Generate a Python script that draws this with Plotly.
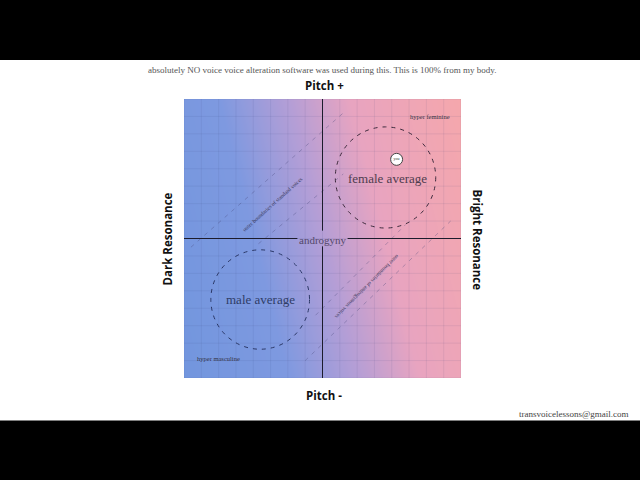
import numpy as np
import plotly.graph_objects as go

# ---- data ----
axis_range = [-8, 8]
grid_step = 1

circle_names = ["female average", "male average"]
circle_cx = [3.64, -3.6]
circle_cy = [3.5, -3.5]
circle_r = [2.9, 2.85]
circle_colors = ["#3c2a3c", "#2a3766"]
label_x = [3.76, -3.58]
label_y = [3.45, -3.5]
label_colors = ["#4e3c4e", "#2f3c66"]

corner_labels = ["hyper feminine", "hyper masculine"]
corner_x = [6.2, -6.0]
corner_y = [7.0, -6.9]

you_x = [4.28]
you_y = [4.54]

diag_lines_x = [[-7.6, 1.2], [-3.7, 1.2], [-0.4, 4.8], [-1.0, 7.4]]
diag_lines_y = [[-0.5, 7.2], [-0.3, 3.7], [-4.4, 0.8], [-7.0, 1.0]]
diag_texts = ["outer boundaries of standard voices", "outer boundaries of androgynous voices"]
diag_text_x = [-2.89, 2.6]
diag_text_y = [2.0, -2.76]
diag_text_angle = [-42, 135]

# ---- figure ----
fig = go.Figure()

# background gradient
gx = np.linspace(-8.5, 8.5, 18)
gy = np.linspace(-8.5, 8.5, 18)
GX, GY = np.meshgrid(gx, gy)
Z = GX + 0.25 * GY
fig.add_trace(go.Heatmap(
    x=gx, y=gy, z=Z, zmin=-10, zmax=10, zsmooth="best", showscale=False,
    hoverinfo="skip",
    colorscale=[[0, "rgb(114,150,222)"], [0.3, "rgb(126,153,224)"],
                [0.5, "rgb(180,158,214)"], [0.68, "rgb(232,164,192)"],
                [1, "rgb(245,167,172)"]]))

# diagonal dashed lines
for lx, ly in zip(diag_lines_x, diag_lines_y):
    fig.add_trace(go.Scatter(x=lx, y=ly, mode="lines", hoverinfo="skip",
                             line=dict(color="rgba(70,70,120,0.35)", width=1, dash="4px,5px"),
                             showlegend=False))

# "you" marker
fig.add_trace(go.Scatter(x=you_x, y=you_y, mode="markers+text", text=["you"],
                         textfont=dict(size=4, color="#333", family="Liberation Serif"),
                         textposition="middle center",
                         marker=dict(size=12, color="white", line=dict(color="#444", width=1)),
                         showlegend=False, hoverinfo="skip"))

shapes = []
# grid lines
ticks = np.arange(axis_range[0], axis_range[1] + grid_step, grid_step)
for t in ticks:
    shapes.append(dict(type="line", xref="x", yref="y", x0=t, x1=t, y0=axis_range[0], y1=axis_range[1],
                       line=dict(color="rgba(60,70,120,0.09)", width=1), layer="above"))
    shapes.append(dict(type="line", xref="x", yref="y", y0=t, y1=t, x0=axis_range[0], x1=axis_range[1],
                       line=dict(color="rgba(60,70,120,0.09)", width=1), layer="above"))
# center axes (interrupted by the "androgyny" label)
gap = 1.45
shapes.append(dict(type="line", xref="x", yref="y", x0=axis_range[0], x1=-gap, y0=0, y1=0,
                   line=dict(color="#1c1c2c", width=1), layer="above"))
shapes.append(dict(type="line", xref="x", yref="y", x0=gap, x1=axis_range[1], y0=0, y1=0,
                   line=dict(color="#1c1c2c", width=1), layer="above"))
shapes.append(dict(type="line", xref="x", yref="y", x0=0, x1=0, y0=axis_range[0], y1=-0.45,
                   line=dict(color="#1c1c2c", width=1), layer="above"))
shapes.append(dict(type="line", xref="x", yref="y", x0=0, x1=0, y0=0.45, y1=axis_range[1],
                   line=dict(color="#1c1c2c", width=1), layer="above"))
# dashed circles
for cx, cy, r, c in zip(circle_cx, circle_cy, circle_r, circle_colors):
    shapes.append(dict(type="circle", xref="x", yref="y", x0=cx - r, x1=cx + r, y0=cy - r, y1=cy + r,
                       line=dict(color=c, width=1, dash="4px,5px"), layer="above"))
# black bars
shapes.append(dict(type="rect", xref="paper", yref="paper", x0=-0.8, x1=1.8, y0=1.140, y1=1.40,
                   fillcolor="black", line=dict(width=0)))
shapes.append(dict(type="rect", xref="paper", yref="paper", x0=-0.8, x1=1.8, y0=-0.40, y1=-0.152,
                   fillcolor="black", line=dict(width=0)))

ann = []
serif = "Liberation Serif"
sans = "Open Sans"
ann.append(dict(x=0, y=0, xref="x", yref="y", yshift=-1, text="androgyny", showarrow=False,
                font=dict(family=serif, size=11, color="#54486a")))
for t, x, y, c in zip(circle_names, label_x, label_y, label_colors):
    ann.append(dict(x=x, y=y, xref="x", yref="y", text=t, showarrow=False,
                    font=dict(family=serif, size=13, color=c)))
for t, x, y in zip(corner_labels, corner_x, corner_y):
    ann.append(dict(x=x, y=y, xref="x", yref="y", text=t, showarrow=False,
                    font=dict(family=serif, size=6.5, color="#333344")))
for t, x, y, a in zip(diag_texts, diag_text_x, diag_text_y, diag_text_angle):
    ann.append(dict(x=x, y=y, xref="x", yref="y", text=t, showarrow=False, textangle=a,
                    font=dict(family=serif, size=5.5, color="#3a3a60")))

def pann(x, y, text, font, angle=0, xanchor="center"):
    ann.append(dict(x=x, y=y, xref="paper", yref="paper", showarrow=False, text=text,
                    xanchor=xanchor, yanchor="middle", textangle=angle, font=font))

pann(0.497, 1.104,
     "absolutely NO voice voice alteration software was used during this. This is 100% from my body.",
     dict(family=serif, size=9, color="#555555"))
pann(0.509, 1.047, "<b>Pitch +</b>", dict(family=sans, size=11.5, color="#111111"))
pann(0.505, -0.061, "<b>Pitch -</b>", dict(family=sans, size=11.5, color="#111111"))
pann(-0.058, 0.5, "<b>Dark Resonance</b>", dict(family=sans, size=11.5, color="#111111"), angle=-90)
pann(1.061, 0.493, "<b>Bright Resonance</b>", dict(family=sans, size=11.5, color="#111111"), angle=90)
pann(1.614, -0.129, "transvoicelessons@gmail.com", dict(family=serif, size=9, color="#444444"),
     xanchor="right")

fig.update_layout(
    width=640, height=480,
    margin=dict(l=184, r=179, t=99, b=102),
    paper_bgcolor="white", plot_bgcolor="white",
    xaxis=dict(range=axis_range, showgrid=False, zeroline=False, showticklabels=False, ticks="",
               fixedrange=True),
    yaxis=dict(range=axis_range, showgrid=False, zeroline=False, showticklabels=False, ticks="",
               fixedrange=True),
    shapes=shapes, annotations=ann, showlegend=False,
)

fig.write_html("out.html", config={"displayModeBar": False},
               post_script="document.body.style.margin='0';")
